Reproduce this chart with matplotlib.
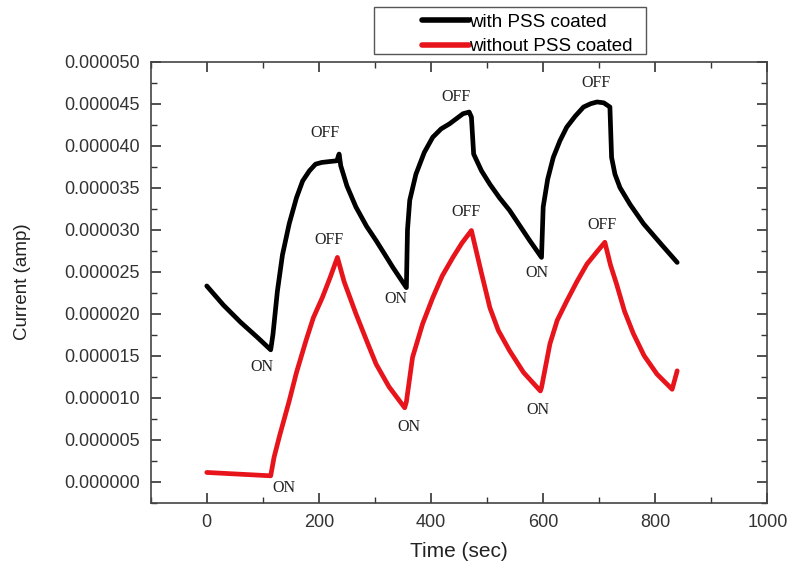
import matplotlib
matplotlib.use("Agg")
import matplotlib.pyplot as plt
from matplotlib.patches import Rectangle
from matplotlib.ticker import MultipleLocator, FormatStrFormatter

# Corriente con recubrimiento PSS (valores en 1e-6 A)
t_con = [0, 30, 60, 90, 114, 118, 126, 135, 147, 160, 171, 183, 194, 205,
         218, 232, 236, 239, 250, 266, 285, 302, 318, 332, 345, 356, 358,
         362, 373, 388, 403, 418, 433, 445, 457, 468, 472, 476, 490, 505,
         522, 540, 558, 576, 597, 600, 608, 618, 630, 642, 657, 672, 685,
         696, 708, 719, 722, 728, 737, 755, 779, 810, 839]
i_con = [23.3, 21.0, 19.0, 17.2, 15.7, 17.5, 22.7, 27.0, 30.7, 33.8, 35.8,
         37.0, 37.8, 38.0, 38.1, 38.2, 39.0, 37.6, 35.2, 32.7, 30.4, 28.7,
         27.0, 25.5, 24.2, 23.1, 30.0, 33.5, 36.6, 39.2, 41.0, 42.0, 42.6,
         43.2, 43.8, 44.0, 43.4, 39.0, 37.0, 35.4, 33.8, 32.3, 30.5, 28.7,
         26.7, 32.7, 36.0, 38.6, 40.6, 42.2, 43.5, 44.6, 45.0, 45.2, 45.1,
         44.6, 38.6, 36.6, 35.0, 33.0, 30.7, 28.3, 26.1]

# Corriente sin recubrimiento PSS (valores en 1e-6 A)
t_sin = [0, 114, 120, 130, 147, 160, 177, 190, 206, 220, 233, 245, 266, 285,
         302, 325, 353, 356, 367, 385, 403, 420, 439, 455, 472, 490, 505,
         520, 540, 565, 595, 597, 612, 625, 642, 660, 678, 695, 710, 720,
         731, 745, 761, 780, 803, 830, 839]
i_sin = [1.1, 0.7, 2.9, 5.5, 9.6, 13.0, 16.8, 19.5, 21.9, 24.3, 26.7, 23.8,
         20.0, 16.8, 14.0, 11.3, 8.8, 9.5, 14.8, 18.8, 21.9, 24.5, 26.7,
         28.4, 29.9, 24.8, 20.7, 18.0, 15.6, 13.0, 10.8, 11.2, 16.4, 19.2,
         21.5, 23.8, 25.9, 27.3, 28.5, 25.8, 23.5, 20.3, 17.6, 15.0, 12.8,
         11.0, 13.2]

# Etiquetas ON / OFF (texto, t, corriente en 1e-6 A)
etiquetas = [
    ("ON", 98, 13.6), ("OFF", 211, 41.5), ("ON", 338, 21.7),
    ("OFF", 445, 45.8), ("ON", 588, 24.8), ("OFF", 694, 47.5),
    ("ON", 138, -0.75), ("OFF", 218, 28.8), ("ON", 361, 6.5),
    ("OFF", 463, 32.1), ("ON", 591, 8.5), ("OFF", 705, 30.5),
]

SANS = "Liberation Sans"


def main() -> None:
    fig = plt.figure(figsize=(7.89, 5.64), dpi=100)
    ax = fig.add_axes([0.191, 0.1087, 0.7817, 0.782])

    escala = 1e-6
    ax.plot(t_con, [v * escala for v in i_con], color="black", lw=3.4,
            solid_joinstyle="round", solid_capstyle="round",
            label="with PSS coated")
    ax.plot(t_sin, [v * escala for v in i_sin], color="#e8141c", lw=3.4,
            solid_joinstyle="round", solid_capstyle="round",
            label="without PSS coated")

    for texto, t, v in etiquetas:
        ax.text(t, v * escala, texto, ha="center", va="center",
                family="Liberation Serif", fontsize=11.5, color="#222222")

    ax.set_xlim(-100, 1000)
    ax.set_ylim(-0.0000025, 0.00005)
    ax.xaxis.set_major_locator(MultipleLocator(200))
    ax.xaxis.set_minor_locator(MultipleLocator(100))
    ax.yaxis.set_major_locator(MultipleLocator(0.000005))
    ax.yaxis.set_minor_locator(MultipleLocator(0.0000025))
    ax.yaxis.set_major_formatter(FormatStrFormatter("%.6f"))

    ax.tick_params(which="both", direction="in", top=True, right=True,
                   labelsize=13, colors="#333333", pad=8)
    ax.tick_params(which="major", length=7, width=1.2)
    ax.tick_params(which="minor", length=4, width=1.0)
    for etiqueta in ax.get_xticklabels() + ax.get_yticklabels():
        etiqueta.set_family(SANS)
    for lado in ax.spines.values():
        lado.set_color("#444444")
        lado.set_linewidth(1.2)

    ax.set_xlabel("Time (sec)", fontsize=15, family=SANS, color="#222222",
                  labelpad=8)
    ax.set_ylabel("Current (amp)", fontsize=13.5, family=SANS,
                  color="#222222", labelpad=24)

    # Recuadro de la leyenda (en píxeles de la figura: 374-646, 7-54)
    fig.patches.append(Rectangle((374 / 789, 1 - 54 / 564), 272 / 789,
                                 47 / 564, transform=fig.transFigure,
                                 facecolor="white", edgecolor="#555555",
                                 linewidth=1.0))
    leyenda = fig.legend(loc="upper left",
                         bbox_to_anchor=(416 / 789, 1 - 8 / 564),
                         prop={"family": SANS, "size": 13.5}, frameon=False,
                         handlelength=2.5, handletextpad=0.05,
                         borderpad=0.3, labelspacing=0.4,
                         borderaxespad=0.0)
    for linea in leyenda.get_lines():
        linea.set_linewidth(4.0)

    fig.savefig("out.png", dpi=100)
    plt.close(fig)


if __name__ == "__main__":
    main()
